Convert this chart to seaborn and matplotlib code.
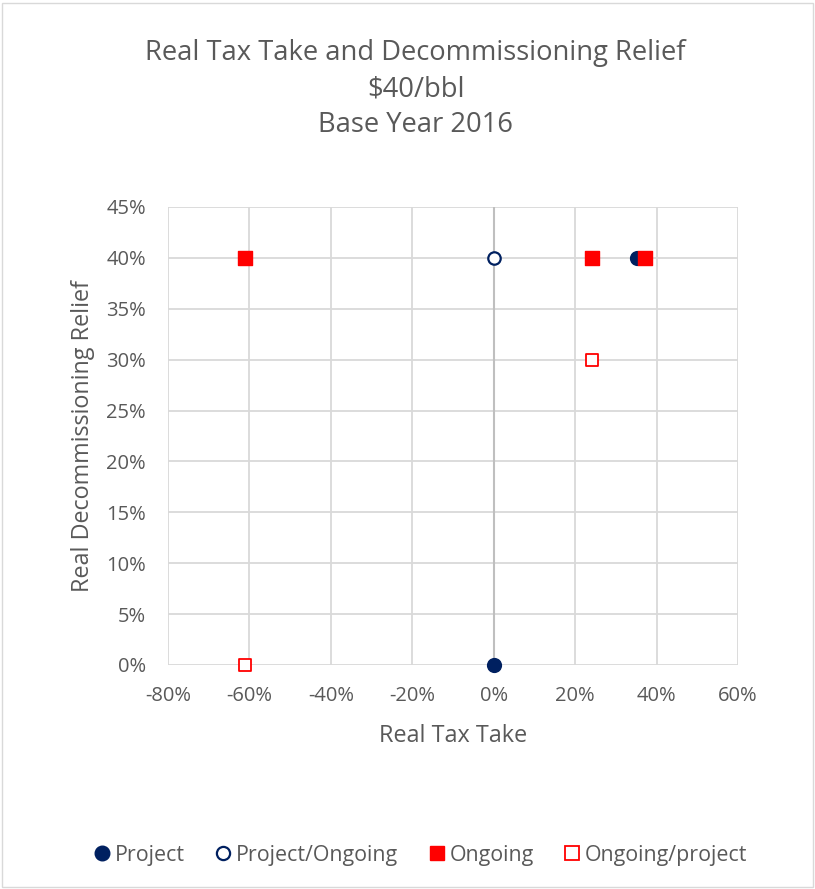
import matplotlib
matplotlib.use("Agg")
import matplotlib.pyplot as plt
import seaborn as sns
import pandas as pd
from matplotlib.ticker import FuncFormatter, MultipleLocator
from matplotlib.lines import Line2D

# Data (fractions)
project_x = [0.0, 0.352]
project_y = [0.0, 0.40]
proj_ongoing_x = [0.0]
proj_ongoing_y = [0.40]
ongoing_x = [-0.612, 0.241, 0.372]
ongoing_y = [0.40, 0.40, 0.40]
ongoing_project_x = [-0.612, 0.241]
ongoing_project_y = [0.0, 0.30]

series_names = ["Project", "Project/Ongoing", "Ongoing", "Ongoing/project"]

NAVY = "#002060"
RED = "#FF0000"
TXT = "#595959"

sns.set_theme(style="white")
plt.rcParams['font.family'] = ['Open Sans', 'DejaVu Sans']

fig = plt.figure(figsize=(8.15, 8.89), dpi=100)
ax = fig.add_axes([168/815, 1-665/889, (738-168)/815, (665-207)/889])

frames = []
for name, xs, ys in [(series_names[0], project_x, project_y),
                     (series_names[1], proj_ongoing_x, proj_ongoing_y),
                     (series_names[2], ongoing_x, ongoing_y),
                     (series_names[3], ongoing_project_x, ongoing_project_y)]:
    frames.append(pd.DataFrame({"x": xs, "y": ys, "series": name}))
df = pd.concat(frames, ignore_index=True)

styles = {
    "Project": dict(marker="o", s=95, facecolor=NAVY, edgecolor=NAVY, linewidth=1.2),
    "Project/Ongoing": dict(marker="o", s=80, facecolor="white", edgecolor=NAVY, linewidth=1.6),
    "Ongoing": dict(marker="s", s=100, facecolor=RED, edgecolor=RED, linewidth=1.0),
    "Ongoing/project": dict(marker="s", s=85, facecolor="white", edgecolor=RED, linewidth=1.3),
}
for i, name in enumerate(series_names):
    sub = df[df["series"] == name]
    st = styles[name]
    sns.scatterplot(data=sub, x="x", y="y", ax=ax, marker=st["marker"], s=st["s"],
                    color=st["facecolor"], edgecolor=st["edgecolor"],
                    linewidth=st["linewidth"], zorder=5 + i, legend=False, clip_on=False)

ax.set_xlim(-0.8, 0.6)
ax.set_ylim(0, 0.45)
ax.xaxis.set_major_locator(MultipleLocator(0.2))
ax.yaxis.set_major_locator(MultipleLocator(0.05))
ax.xaxis.set_major_formatter(FuncFormatter(lambda v, p: f"{v*100:.0f}%"))
ax.yaxis.set_major_formatter(FuncFormatter(lambda v, p: f"{v*100:.0f}%"))
ax.grid(True, color="#D9D9D9", linewidth=1.3)
ax.set_axisbelow(True)
for sp in ax.spines.values():
    sp.set_visible(False)
ax.axvline(0, color="#BFBFBF", linewidth=1.5, zorder=1)
ax.tick_params(axis="x", length=0, labelsize=14.5, labelcolor=TXT, pad=15)
ax.tick_params(axis="y", length=0, labelsize=14.5, labelcolor=TXT, pad=16)

ax.set_xlabel("Real Tax Take", fontsize=16.8, color=TXT, labelpad=13)
ax.set_ylabel("Real Decommissioning Relief", fontsize=16.8, color=TXT, labelpad=8)

fig.text(0.51, 1 - 89/889, "Real Tax Take and Decommissioning Relief\n$40/bbl\nBase Year 2016",
         ha="center", va="center", fontsize=19.7, color=TXT, linespacing=1.4)

handles = [
    Line2D([], [], linestyle="none", marker="o", markersize=10.5, markerfacecolor=NAVY, markeredgecolor=NAVY),
    Line2D([], [], linestyle="none", marker="o", markersize=9.5, markerfacecolor="white", markeredgecolor=NAVY, markeredgewidth=1.6),
    Line2D([], [], linestyle="none", marker="s", markersize=10.5, markerfacecolor=RED, markeredgecolor=RED),
    Line2D([], [], linestyle="none", marker="s", markersize=9.5, markerfacecolor="white", markeredgecolor=RED, markeredgewidth=1.3),
]
fig.legend(handles, series_names, loc="center", bbox_to_anchor=(0.5166, 1 - 855/889), ncol=4,
           frameon=False, fontsize=15.4, labelcolor=TXT, handletextpad=0.25, columnspacing=1.45,
           handlelength=0.7)

border = plt.Rectangle((0.003, 0.002), 0.994, 0.995, transform=fig.transFigure,
                       fill=False, edgecolor="#D9D9D9", linewidth=1.0)
fig.patches.append(border)

fig.savefig("out.png", dpi=100, facecolor="white")
